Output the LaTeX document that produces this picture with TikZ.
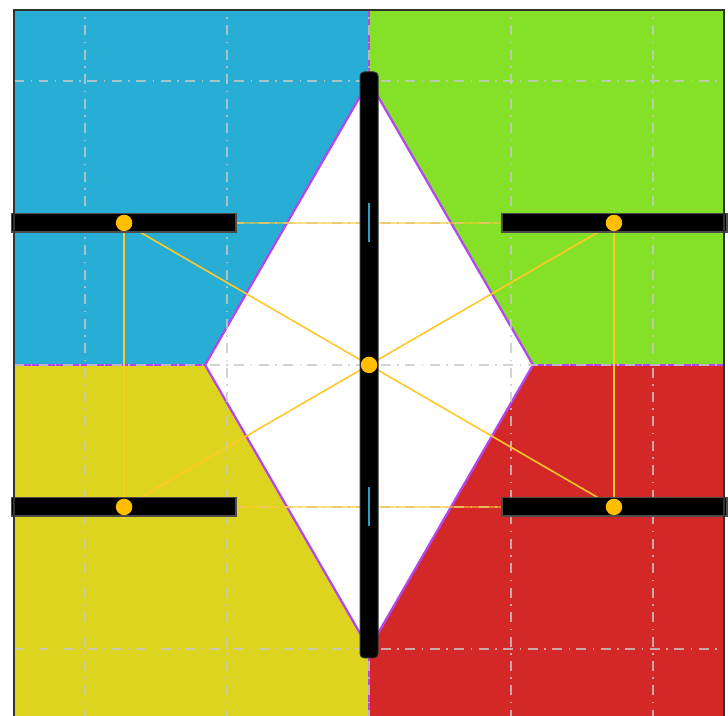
\documentclass[tikz,border=0pt]{standalone}
\definecolor{regblue}{RGB}{40,174,212}
\definecolor{reggreen}{RGB}{133,224,40}
\definecolor{regyellow}{RGB}{221,212,32}
\definecolor{regred}{RGB}{212,40,40}
\definecolor{edgepurple}{RGB}{180,70,240}
\definecolor{gridgray}{RGB}{200,200,200}
\definecolor{linkyellow}{RGB}{255,200,40}
\definecolor{dotyellow}{RGB}{255,190,0}
\definecolor{markcyan}{RGB}{40,160,200}
\begin{document}
\begin{tikzpicture}[x=1cm,y=1cm,
  gridline/.style={draw=gridgray, line width=0.35pt, opacity=0.8,
    dash pattern=on 2pt off 1.3pt on 0.3pt off 1.3pt},
  boundary/.style={draw=edgepurple, line width=0.45pt},
  link/.style={draw=linkyellow, line width=0.32pt},
  faintlink/.style={draw=linkyellow, line width=0.4pt, opacity=0.55},
  vbar/.style={fill=black, draw=black!80, line width=0.2pt, rounded corners=0.8pt},
  hbar/.style={fill=black, draw=black!70, line width=0.25pt},
  joint/.style={circle, fill=dotyellow, inner sep=0pt, minimum size=3.3pt},
  cyanmark/.style={draw=markcyan, line width=0.4pt}]
\useasboundingbox (-2.599,-2.472) rectangle (2.528,2.570);
% regions
\fill[regblue] (-2.5,0) -- (-2.5,2.5) -- (0,2.5) -- (0,2) -- (-1.1547,0) -- cycle;
\fill[reggreen] (2.5,0) -- (2.5,2.5) -- (0,2.5) -- (0,2) -- (1.1547,0) -- cycle;
\fill[regyellow] (-2.5,0) -- (-2.5,-2.5) -- (0,-2.5) -- (0,-2) -- (-1.1547,0) -- cycle;
\fill[regred] (2.5,0) -- (2.5,-2.5) -- (0,-2.5) -- (0,-2) -- (1.1547,0) -- cycle;
\fill[white] (0,2) -- (-1.1547,0) -- (0,-2) -- (1.1547,0) -- cycle;
% boundaries
\draw[boundary] (0,2) -- (-1.1547,0) -- (0,-2) -- (1.1547,0) -- cycle;
\draw[boundary] (0,2.5) -- (0,2);
\draw[boundary] (0,-2) -- (0,-2.5);
\draw[boundary] (-2.5,0) -- (-1.1547,0);
\draw[boundary] (1.1547,0) -- (2.5,0);
% grid
\foreach \g in {-2,-1,0,1,2}{
  \draw[gridline] (\g,-2.5) -- (\g,2.5);
  \draw[gridline] (-2.5,\g) -- (2.5,\g);
}
% joints
\node[joint] (c) at (0,0) {};
\node[joint] (lt) at (-1.725,1) {};
\node[joint] (lb) at (-1.725,-1) {};
\node[joint] (rt) at (1.725,1) {};
\node[joint] (rb) at (1.725,-1) {};
% links
\draw[faintlink] (lt.center) -- (rt.center);
\draw[faintlink] (lb.center) -- (rb.center);
\draw[link] (lt.center) -- (c.center);
\draw[link] (lb.center) -- (c.center);
\draw[link] (rt.center) -- (c.center);
\draw[link] (rb.center) -- (c.center);
\draw[link] (lt.center) -- (lb.center);
\draw[link] (rt.center) -- (rb.center);
% bars
\filldraw[vbar] (-0.0634,-2.063) rectangle (0.0634,2.063);
\filldraw[hbar] (-2.52,0.936) rectangle (-0.937,1.064);
\filldraw[hbar] (-2.52,-1.064) rectangle (-0.937,-0.936);
\filldraw[hbar] (0.937,0.936) rectangle (2.52,1.064);
\filldraw[hbar] (0.937,-1.064) rectangle (2.52,-0.936);
% marks
\draw[cyanmark] (0,0.863) -- (0,1.137);
\draw[cyanmark] (0,-1.137) -- (0,-0.863);
% dots on top
\node[joint] at (c) {};
\node[joint] at (lt) {};
\node[joint] at (lb) {};
\node[joint] at (rt) {};
\node[joint] at (rb) {};
% frame
\draw[draw={rgb,255:red,50;green,50;blue,50}, line width=0.4pt] (-2.5,-2.5) rectangle (2.5,2.5);
\end{tikzpicture}
\end{document}
